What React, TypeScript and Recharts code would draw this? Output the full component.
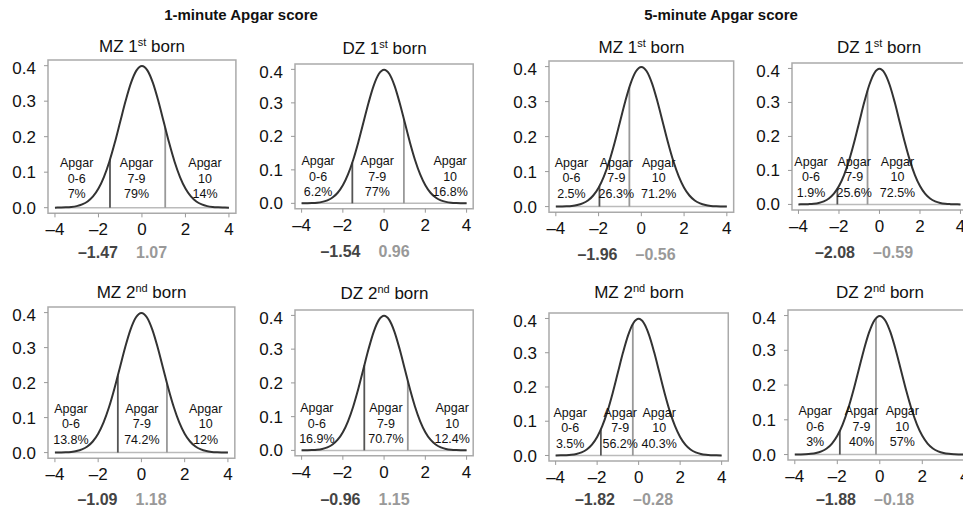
import { ComposedChart, Line, Scatter, XAxis, YAxis, ReferenceArea, ReferenceLine } from "recharts";

// liability scale (x) and the normal density (y)
const curveX = [
  -4, -3.75, -3.5, -3.25, -3, -2.75, -2.5, -2.25, -2, -1.75, -1.5, -1.25, -1, -0.75, -0.5, -0.25,
  0, 0.25, 0.5, 0.75, 1, 1.25, 1.5, 1.75, 2, 2.25, 2.5, 2.75, 3, 3.25, 3.5, 3.75, 4,
];
const curveY = [
  0.0001, 0.0004, 0.0009, 0.002, 0.0044, 0.0091, 0.0175, 0.0317, 0.054, 0.0863, 0.1295, 0.1826, 0.242, 0.3011, 0.3521, 0.3867,
  0.3989, 0.3867, 0.3521, 0.3011, 0.242, 0.1826, 0.1295, 0.0863, 0.054, 0.0317, 0.0175, 0.0091, 0.0044, 0.002, 0.0009, 0.0004, 0.0001,
];

const xTicks = [-4, -2, 0, 2, 4];
const yTicks = [0, 0.1, 0.2, 0.3, 0.4];

const zygosity = ["MZ", "DZ", "MZ", "DZ", "MZ", "DZ", "MZ", "DZ"];
const birthOrder = ["1", "1", "1", "1", "2", "2", "2", "2"];
const ordinal = ["st", "st", "st", "st", "nd", "nd", "nd", "nd"];
const categories = ["0-6", "7-9", "10"];

const lowCut = [-1.47, -1.54, -1.96, -2.08, -1.09, -0.96, -1.82, -1.88];
const highCut = [1.07, 0.96, -0.56, -0.59, 1.18, 1.15, -0.28, -0.18];
// curve height where each threshold line stops
const lowCutHeight = [0.135, 0.122, 0.058, 0.046, 0.22, 0.252, 0.076, 0.068];
const highCutHeight = [0.225, 0.252, 0.341, 0.335, 0.199, 0.206, 0.384, 0.392];

const pct06 = ["7%", "6.2%", "2.5%", "1.9%", "13.8%", "16.9%", "3.5%", "3%"];
const pct79 = ["79%", "77%", "26.3%", "25.6%", "74.2%", "70.7%", "56.2%", "40%"];
const pct10 = ["14%", "16.8%", "71.2%", "72.5%", "12%", "12.4%", "40.3%", "57%"];

const headers = ["1-minute Apgar score", "5-minute Apgar score"];

// pixel placement of each panel: x of -4 / 4, y of 0.4 / 0, plus text rows
const layout = [
  { xa: 55, xb: 229, yt: 66, y0: 208, titleY: 47, cutY: 253, lx: [-3.0, -0.25, 2.9] },
  { xa: 302, xb: 467, yt: 69, y0: 203, titleY: 49, cutY: 252, lx: [-3.2, -0.33, 3.2] },
  { xa: 556, xb: 727, yt: 67, y0: 207, titleY: 48, cutY: 255, lx: [-3.27, -1.17, 0.81] },
  { xa: 798, xb: 960, yt: 68, y0: 204, titleY: 48, cutY: 253, lx: [-3.38, -1.25, 0.89] },
  { xa: 55, xb: 228, yt: 313, y0: 453, titleY: 293, cutY: 500, lx: [-3.26, 0.02, 2.97] },
  { xa: 302, xb: 467, yt: 315, y0: 450, titleY: 294, cutY: 500, lx: [-3.26, 0.09, 3.3] },
  { xa: 556, xb: 722, yt: 318, y0: 455, titleY: 293, cutY: 500, lx: [-3.3, -0.89, 0.99] },
  { xa: 795, xb: 965, yt: 316, y0: 455, titleY: 293, cutY: 500, lx: [-3.04, -0.86, 1.06] },
];

const FONT = '"Liberation Sans", Arial, sans-serif';
const YW = 45;
const XH = 40;
const X_DOM = [-4.32, 4.32];
const Y_DOM = [-0.016, 0.416];

const curve = curveX.map((x, i) => ({ x, y: curveY[i] }));
const dash = (v: number) => String(v).replace("-", "\u2013");
const fmt = (v: number) => v.toFixed(2).replace("-", "\u2013");

const LabelShape = (props: any) => {
  const { cx, cy, payload } = props;
  return (
    <g>
      {payload.lines.map((t: string, k: number) => (
        <text key={k} x={cx} y={cy + k * 15.5} textAnchor="middle" dominantBaseline="central" fontSize={12.5} fill="#111">
          {t}
        </text>
      ))}
    </g>
  );
};

const Panel = ({ i }: { i: number }) => {
  const L = layout[i];
  const sx = (L.xb - L.xa) / 8;
  const sy = (L.y0 - L.yt) / 0.4;
  const plotLeft = L.xa - 0.32 * sx;
  const plotW = 8.64 * sx;
  const plotTop = L.yt - 0.016 * sy;
  const plotH = 0.432 * sy;
  const cx = plotLeft + plotW / 2;
  const labels = [
    { x: L.lx[0], y: 0.125, lines: ["Apgar", categories[0], pct06[i]] },
    { x: L.lx[1], y: 0.125, lines: ["Apgar", categories[1], pct79[i]] },
    { x: L.lx[2], y: 0.125, lines: ["Apgar", categories[2], pct10[i]] },
  ];
  return (
    <>
      <div
        style={{
          position: "absolute", left: cx - 100, width: 200, top: L.titleY - 10, height: 20,
          lineHeight: "20px", textAlign: "center", fontSize: 17, color: "#111",
        }}
      >
        {zygosity[i]} {birthOrder[i]}
        <span style={{ fontSize: 11, position: "relative", top: -6 }}>{ordinal[i]}</span> born
      </div>
      <div style={{ position: "absolute", left: plotLeft - YW, top: plotTop - 2 }}>
        <ComposedChart
          width={YW + plotW + 4}
          height={2 + plotH + XH}
          margin={{ top: 2, right: 4, bottom: 0, left: 0 }}
        >
          <XAxis
            type="number" dataKey="x" domain={X_DOM} ticks={xTicks} allowDataOverflow
            axisLine={false} tickSize={4} tickMargin={6} height={XH}
            tickLine={{ stroke: "#999" }} tick={{ fontSize: 17, fill: "#111" }}
            tickFormatter={dash}
          />
          <YAxis
            type="number" domain={Y_DOM} ticks={yTicks} allowDataOverflow width={YW}
            axisLine={false} tickSize={4} tickMargin={8}
            tickLine={{ stroke: "#999" }} tick={{ fontSize: 17, fill: "#111" }}
            tickFormatter={(v: number) => v.toFixed(1)}
          />
          <ReferenceArea x1={X_DOM[0]} x2={X_DOM[1]} y1={Y_DOM[0]} y2={Y_DOM[1]} fill="none" stroke="#aaa" strokeWidth={1.5} />
          <ReferenceLine segment={[{ x: -4, y: 0 }, { x: 4, y: 0 }]} stroke="#bbb" strokeWidth={1.5} />
          <ReferenceLine segment={[{ x: lowCut[i], y: 0 }, { x: lowCut[i], y: lowCutHeight[i] }]} stroke="#555" strokeWidth={1.8} />
          <ReferenceLine segment={[{ x: highCut[i], y: 0 }, { x: highCut[i], y: highCutHeight[i] }]} stroke="#999" strokeWidth={1.8} />
          <Line data={curve} dataKey="y" type="monotone" stroke="#333" strokeWidth={2} dot={false} isAnimationActive={false} />
          <Scatter data={labels} dataKey="y" shape={LabelShape} isAnimationActive={false} />
        </ComposedChart>
      </div>
      <div
        style={{
          position: "absolute", left: cx - 124, width: 100, top: L.cutY - 10, height: 20,
          lineHeight: "20px", textAlign: "right", fontSize: 16, fontWeight: "bold", color: "#444",
        }}
      >
        {fmt(lowCut[i])}
      </div>
      <div
        style={{
          position: "absolute", left: cx - 6, width: 100, top: L.cutY - 10, height: 20,
          lineHeight: "20px", textAlign: "left", fontSize: 16, fontWeight: "bold", color: "#999",
        }}
      >
        {fmt(highCut[i])}
      </div>
    </>
  );
};

export default function App() {
  return (
    <div
      style={{
        position: "absolute", left: 0, top: 0, width: 963, height: 513, overflow: "hidden",
        background: "#fff", fontFamily: FONT,
      }}
    >
      {headers.map((h, k) => (
        <div
          key={h}
          style={{
            position: "absolute", left: (k === 0 ? 241 : 721) - 150, width: 300, top: 5, height: 20,
            lineHeight: "20px", textAlign: "center", fontSize: 15, fontWeight: "bold", color: "#111",
          }}
        >
          {h}
        </div>
      ))}
      {layout.map((_, i) => (
        <Panel key={i} i={i} />
      ))}
    </div>
  );
}
